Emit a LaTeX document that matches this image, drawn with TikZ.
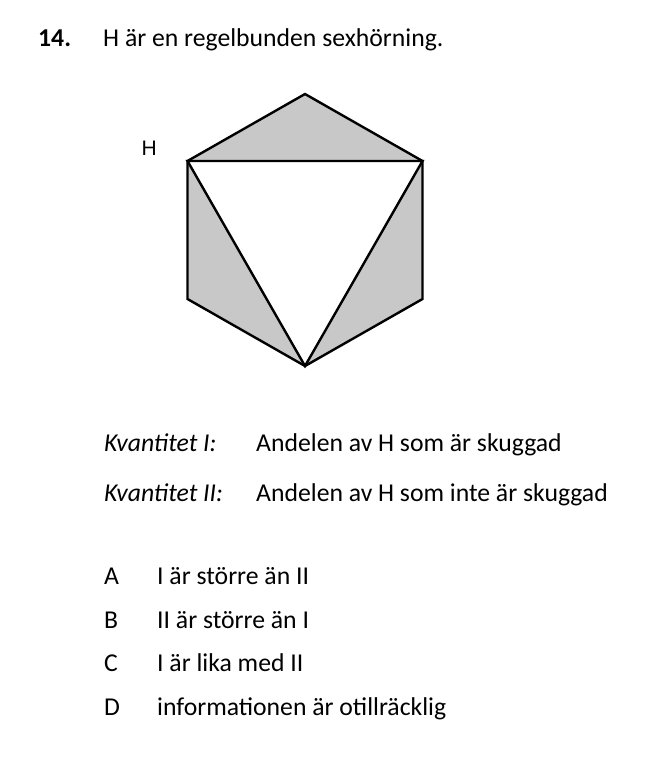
\documentclass[tikz,border=0pt]{standalone}
\usepackage{fontspec}
\setmainfont{Carlito}
\newfontfamily\arialfont{Liberation Sans}
\begin{document}
\begin{tikzpicture}[x=1pt,y=-1pt,
  txt/.style={anchor=base west,inner sep=0pt,font=\fontsize{25.7}{30}\selectfont},
  hexline/.style={line width=2.4pt,line join=miter},
  shade/.style={fill={rgb,255:red,200;green,200;blue,200}}]
\useasboundingbox (0,0) rectangle (667,775);
% hexagon vertices
\coordinate (T) at (305,94);
\coordinate (UL) at (187.5,161);
\coordinate (UR) at (422.5,161);
\coordinate (LL) at (187.5,299);
\coordinate (LR) at (422.5,299);
\coordinate (B) at (305,366);
% shaded triangles
\fill[shade] (T) -- (UL) -- (UR) -- cycle;
\fill[shade] (UL) -- (LL) -- (B) -- cycle;
\fill[shade] (UR) -- (LR) -- (B) -- cycle;
% outlines
\draw[hexline] (T) -- (UR) -- (LR) -- (B) -- (LL) -- (UL) -- cycle;
\draw[hexline] (UL) -- (UR) -- (B) -- cycle;
\node[anchor=base west,inner sep=0pt,font=\arialfont\fontsize{21}{25}\selectfont] (hlabel) at (141.5,156) {H};
% title
\node[txt] (num) at (38,47) {\bfseries 14.};
\node[txt] (title) at (103,47) {H är en regelbunden sexhörning.};
% quantities
\node[txt] (k1) at (104,451.5) {\itshape Kvantitet I:};
\node[txt] (q1) at (256,451.5) {Andelen av H som är skuggad};
\node[txt] (k2) at (104,501.5) {\itshape Kvantitet II:};
\node[txt] (q2) at (256,501.5) {Andelen av H som inte är skuggad};
% options
\node[txt] (la) at (104,584.5) {A};
\node[txt] (oa) at (157,584.5) {I är större än II};
\node[txt] (lb) at (104,628) {B};
\node[txt] (ob) at (157,628) {II är större än I};
\node[txt] (lc) at (104,671.5) {C};
\node[txt] (oc) at (157,671.5) {I är lika med II};
\node[txt] (ld) at (104,715) {D};
\node[txt] (od) at (157,715) {informationen är otillräcklig};
\end{tikzpicture}
\end{document}
